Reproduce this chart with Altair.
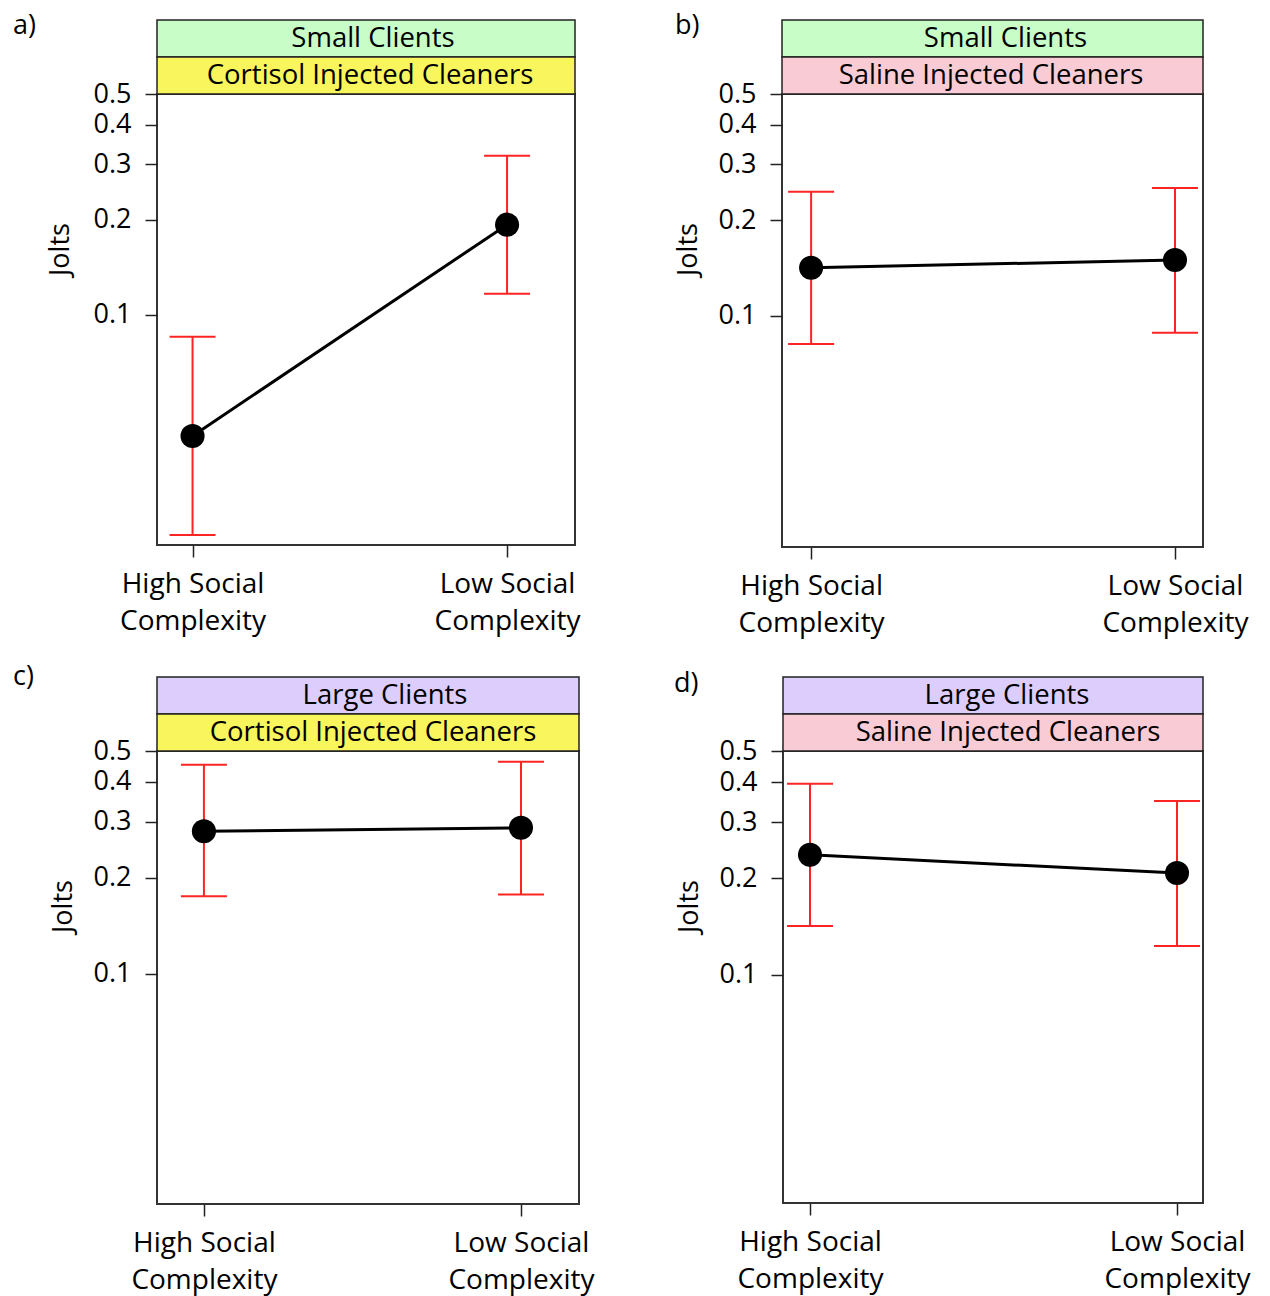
import json
import altair as alt
import pandas as pd

FONT = "Open Sans"

panel_letters = ["a)", "b)", "c)", "d)"]
client_labels = ["Small Clients", "Small Clients", "Large Clients", "Large Clients"]
treatment_labels = ["Cortisol Injected Cleaners", "Saline Injected Cleaners",
                    "Cortisol Injected Cleaners", "Saline Injected Cleaners"]
conditions = ["High Social Complexity", "Low Social Complexity"]
condition_lines = [["High Social", "Complexity"], ["Low Social", "Complexity"]]

means = [[0.0414, 0.193], [0.1417, 0.150], [0.280, 0.287], [0.237, 0.208]]
lows = [[0.0201, 0.1166], [0.0816, 0.0884], [0.175, 0.177], [0.142, 0.123]]
highs = [[0.0852, 0.319], [0.246, 0.253], [0.453, 0.463], [0.395, 0.349]]

y_ticks = [0.1, 0.2, 0.3, 0.4, 0.5]

client_colors = {"Small Clients": "#c8fdc8", "Large Clients": "#dccdfd"}
treatment_colors = {"Cortisol Injected Cleaners": "#f8f65c", "Saline Injected Cleaners": "#f9cbd5"}

# layout per panel: (width, height, x-domain, y-min, letter dx, letter dy, title dx,
#                    strip-1 text dx, strip-2 text dx)
layouts = [
    (418, 451, [-0.113, 1.216], 0.0187, -144, -81, -97, 7, 4),
    (421, 453, [-0.080, 1.077], 0.0187, -107, -81, -94, 13, -1.5),
    (422, 453, [-0.148, 1.183], 0.0189, -144, -87, -94, 17, 5),
    (420, 452, [-0.0736, 1.0708], 0.0194, -109, -80, -94, 14, 15),
]

label_expr = (f"datum.value < 0.5 ? {json.dumps(condition_lines[0])} "
              f": {json.dumps(condition_lines[1])}")

RED = "#ff2424"


def make_panel(i):
    w, h, xdom, ymin, ldx, ldy, tdx, s1dx, s2dx = layouts[i]
    df = pd.DataFrame({
        "pos": [0, 1],
        "condition": conditions,
        "mean": means[i],
        "lo": lows[i],
        "hi": highs[i],
    })
    xenc = alt.X(
        "pos:Q",
        scale=alt.Scale(domain=xdom, nice=False, zero=False),
        axis=alt.Axis(values=[0, 1], labelExpr=label_expr, title=None, grid=False,
                      domain=False, tickSize=12, tickWidth=1.5, tickColor="#222",
                      labelFontSize=28, labelFont=FONT, labelColor="black",
                      labelPadding=13, labelLineHeight=37, labelBaseline="top",
                      labelFlush=False, labelOverlap=False),
    )
    yscale = alt.Scale(type="log", domain=[ymin, 0.5], nice=False)
    yaxis = alt.Axis(values=y_ticks, format=".1f", title="Jolts", grid=False,
                     domain=False, tickSize=12, tickWidth=1.5, tickColor="#222",
                     labelFontSize=27, labelFont=FONT, labelColor="black",
                     labelPadding=14, labelFlush=False, labelOverlap=False,
                     titleFont=FONT, titleFontSize=27, titleFontWeight="normal",
                     titleColor="black", titleX=tdx, titleY=155,
                     titleBaseline="middle", titleAlign="center", titleAngle=-90)

    base = alt.Chart(df)
    bars = base.mark_rule(color=RED, strokeWidth=2).encode(
        x=xenc, y=alt.Y("lo:Q", scale=yscale, axis=yaxis), y2="hi:Q")
    cap_lo = base.mark_rule(color=RED, strokeWidth=2, xOffset=-23, x2Offset=23).encode(
        x=xenc, x2="pos:Q", y=alt.Y("lo:Q", scale=yscale, axis=yaxis))
    cap_hi = base.mark_rule(color=RED, strokeWidth=2, xOffset=-23, x2Offset=23).encode(
        x=xenc, x2="pos:Q", y=alt.Y("hi:Q", scale=yscale, axis=yaxis))
    line = base.mark_line(color="black", strokeWidth=3).encode(
        x=xenc, y=alt.Y("mean:Q", scale=yscale, axis=yaxis))
    pts = base.mark_circle(size=580, color="black", opacity=1).encode(
        x=xenc, y=alt.Y("mean:Q", scale=yscale, axis=yaxis))

    c_lab = client_labels[i]
    t_lab = treatment_labels[i]
    strip1 = alt.Chart(alt.Data(values=[{"label": c_lab}])).mark_rect(
        fill=client_colors[c_lab], stroke="#222", strokeWidth=1.5).encode(
        x=alt.value(0), x2=alt.value(w), y=alt.value(-74), y2=alt.value(-37))
    strip1_t = alt.Chart(alt.Data(values=[{"label": c_lab}])).mark_text(
        font=FONT, fontSize=27.5, color="black", baseline="middle", align="center",
        dx=s1dx).encode(
        x=alt.value(w / 2), y=alt.value(-55), text="label:N")
    strip2 = alt.Chart(alt.Data(values=[{"label": t_lab}])).mark_rect(
        fill=treatment_colors[t_lab], stroke="#222", strokeWidth=1.5).encode(
        x=alt.value(0), x2=alt.value(w), y=alt.value(-37), y2=alt.value(0))
    strip2_t = alt.Chart(alt.Data(values=[{"label": t_lab}])).mark_text(
        font=FONT, fontSize=27.5, color="black", baseline="middle", align="center",
        dx=s2dx).encode(
        x=alt.value(w / 2), y=alt.value(-18), text="label:N")
    letter = alt.Chart(alt.Data(values=[{"label": panel_letters[i]}])).mark_text(
        font=FONT, fontSize=27, color="black", baseline="top", align="left").encode(
        x=alt.value(ldx), y=alt.value(ldy), text="label:N")

    return alt.layer(bars, cap_lo, cap_hi, line, pts, strip1, strip2, strip1_t,
                     strip2_t, letter).properties(width=w, height=h)


row1 = alt.hconcat(make_panel(0), make_panel(1), spacing=91)
row2 = alt.hconcat(make_panel(2), make_panel(3), spacing=77)
chart = alt.vconcat(row1, row2, spacing=24).configure_view(
    stroke="#333", strokeWidth=2).properties(
    padding={"left": 4, "top": 3, "right": 4, "bottom": 4}, background="white")

chart.save("out.html", embed_options={"renderer": "svg", "actions": False})
